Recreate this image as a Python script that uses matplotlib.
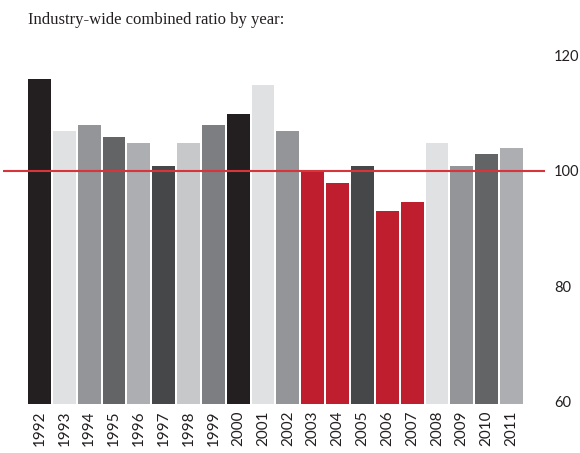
import matplotlib
matplotlib.use('Agg')
import matplotlib.pyplot as plt

years = ['1992', '1993', '1994', '1995', '1996', '1997', '1998', '1999', '2000', '2001',
         '2002', '2003', '2004', '2005', '2006', '2007', '2008', '2009', '2010', '2011']
ratio = [115.9, 106.9, 107.9, 105.8, 104.8, 100.8, 104.8, 107.9, 109.8, 114.8,
         106.9, 99.8, 97.9, 100.8, 93.0, 94.6, 104.8, 100.8, 102.9, 103.9]
colors = ['#231f20', '#e0e1e3', '#939598', '#636466', '#adaeb1', '#454749', '#c7c8ca',
          '#7d7e81', '#231f20', '#e0e1e3', '#939598', '#be1e2d', '#be1e2d', '#454749',
          '#be1e2d', '#be1e2d', '#e0e1e3', '#939598', '#636466', '#adaeb1']
y_ticks = [60, 80, 100, 120]

W, H = 580, 453
fig = plt.figure(figsize=(W / 100, H / 100), dpi=100)
# axes placed in pixel terms: left 3, right 545, top 50, bottom 404
ax = fig.add_axes([3 / W, (H - 404) / H, (545 - 3) / W, (404 - 50) / H])

x = list(range(len(years)))
bottom = 59.6
ax.bar(x, [r - bottom for r in ratio], bottom=bottom, width=0.92, color=colors)
ax.axhline(100, color='#d7343c', lw=1.5, zorder=5)

ax.set_xlim(-1.47, 20.35)
ax.set_ylim(bottom, 120.9)

for s in ax.spines.values():
    s.set_visible(False)

ax.yaxis.tick_right()
ax.set_yticks(y_ticks)
ax.set_yticklabels([str(t) for t in y_ticks], family='Lato',
                   fontsize=10.5, color='#231f20')
ax.tick_params(axis='y', length=0, pad=6.5)

ax.set_xticks(x)
ax.set_xticklabels(years, rotation=90, family='Lato',
                   fontsize=11, color='#231f20')
ax.tick_params(axis='x', length=0, pad=5)

fig.text(28 / W, 1 - 20 / H, 'Industry-wide combined ratio by year:',
         family='Liberation Serif', fontsize=12, color='#231f20', va='center', ha='left')

fig.savefig('out.png', dpi=100)
